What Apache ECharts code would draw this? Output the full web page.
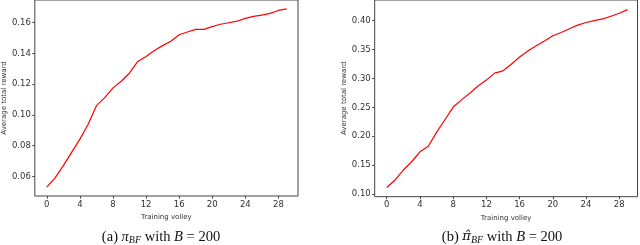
<!DOCTYPE html>
<html>
<head>
<meta charset="utf-8">
<script src="https://cdn.jsdelivr.net/npm/echarts@6/dist/echarts.min.js"></script>
<style>html,body{margin:0;padding:0;background:#fff}#c{width:640px;height:245px}</style>
</head>
<body>
<div id="c"></div>
<script>
// Training volley index
const volleys = [0,1,2,3,4,5,6,7,8,9,10,11,12,13,14,15,16,17,18,19,20,21,22,23,24,25,26,27,28,29];
// (a) pi_BF with B = 200
const rewardA = [0.053,0.059,0.067,0.0756,0.0842,0.0939,0.106,0.1112,0.1176,0.1219,0.1273,0.1348,0.138,0.1419,0.1451,0.148,0.1522,0.154,0.1557,0.1557,0.1575,0.159,0.160,0.161,0.1628,0.1641,0.165,0.1661,0.168,0.169];
// (b) hat pi_BF with B = 200
const rewardB = [0.1114,0.1245,0.1417,0.156,0.1732,0.1828,0.2068,0.2286,0.2505,0.2629,0.2743,0.2869,0.2971,0.3092,0.3131,0.3246,0.3371,0.3474,0.3566,0.3645,0.3737,0.3794,0.3857,0.392,0.3966,0.40,0.4029,0.4074,0.4126,0.4189];
// tick labels
const xTicks = [0,4,8,12,16,20,24,28];
const yTicksA = [0.06,0.08,0.10,0.12,0.14,0.16];
const yTicksB = [0.10,0.15,0.20,0.25,0.30,0.35,0.40];
const xName = 'Training volley';
const yName = 'Average total reward';

const chart = echarts.init(document.getElementById('c'), null, {renderer:'canvas'});
const axisCol = '#444';
const lblStyle = {color:'#333', fontSize:8.5, fontFamily:'DejaVu Sans'};
function xAxis(gi, max){
  return {
    type:'value', gridIndex:gi, min:-1.45, max:max,
    axisLine:{show:false, onZero:false}, splitLine:{show:false},
    axisTick:{show:true, length:2.5, customValues:xTicks, lineStyle:{color:axisCol}},
    axisLabel:Object.assign({customValues:xTicks, margin:4}, lblStyle),
    name:xName, nameLocation:'middle', nameGap:15,
    nameTextStyle:{color:'#333', fontSize:7, fontFamily:'DejaVu Sans'}
  };
}
function yAxis(gi, min, max, ticks, gap){
  return {
    type:'value', gridIndex:gi, min:min, max:max,
    axisLine:{show:false, onZero:false}, splitLine:{show:false},
    axisTick:{show:true, length:2.5, customValues:ticks, lineStyle:{color:axisCol}},
    axisLabel:Object.assign({customValues:ticks, margin:4, formatter:v=>v.toFixed(2)}, lblStyle),
    name:yName, nameLocation:'middle', nameGap:gap,
    nameTextStyle:{color:'#333', fontSize:7, fontFamily:'DejaVu Sans'}
  };
}
const rich = {
  i:{fontFamily:'Liberation Serif', fontStyle:'italic', fontSize:14.5, color:'#111'},
  h:{fontFamily:'DejaVu Serif', fontStyle:'italic', fontSize:13, color:'#111'},
  s:{fontFamily:'Liberation Serif', fontStyle:'italic', fontSize:10, color:'#111', padding:[6,0,0,0]}
};
const capStyle = {fontFamily:'Liberation Serif', fontSize:14.5, fontWeight:'normal', color:'#111', rich:rich};
chart.setOption({
  animation:false,
  title:[
    {text:'(a) {i|π}{s|BF} with {i|B} = 200', left:161, top:229, textAlign:'center', padding:0, textStyle:capStyle},
    {text:'(b) {h|π̂}{s|BF} with {i|B} = 200', left:502, top:229, textAlign:'center', padding:0, textStyle:capStyle}
  ],
  grid:[
    {left:33, top:-1.5, width:265, height:197.5, show:true, borderColor:axisCol, borderWidth:1, backgroundColor:'transparent'},
    {left:374.7, top:-2, width:262.8, height:198.7, show:true, borderColor:axisCol, borderWidth:1, backgroundColor:'transparent'}
  ],
  xAxis:[xAxis(0, 30.37), xAxis(1, 30.2)],
  yAxis:[yAxis(0, 0.0472, 0.1748, yTicksA, 25), yAxis(1, 0.0956, 0.4355, yTicksB, 27)],
  series:[
    {type:'line', xAxisIndex:0, yAxisIndex:0, showSymbol:false, data:volleys.map((v,i)=>[v, rewardA[i]]), lineStyle:{color:'#ff0000', width:1.2}},
    {type:'line', xAxisIndex:1, yAxisIndex:1, showSymbol:false, data:volleys.map((v,i)=>[v, rewardB[i]]), lineStyle:{color:'#ff0000', width:1.2}}
  ]
});
</script>
</body>
</html>
